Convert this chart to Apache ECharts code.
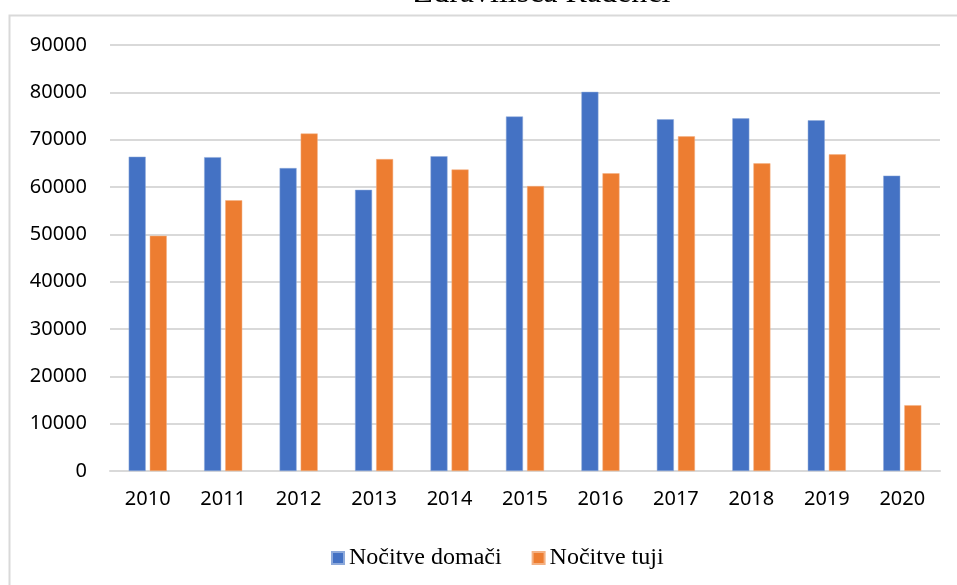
<!DOCTYPE html>
<html>
<head>
<meta charset="utf-8">
<script src="https://cdn.jsdelivr.net/npm/echarts@6/dist/echarts.min.js"></script>
<style>html,body{margin:0;padding:0;background:#fff}#c{width:957px;height:585px}</style>
</head>
<body>
<div id="c"></div>
<script>
const titleText = 'Zdravilišča Radenci';
const categories = ['2010','2011','2012','2013','2014','2015','2016','2017','2018','2019','2020'];
const seriesNames = ['Nočitve domači', 'Nočitve tuji'];
const domaci = [66400, 66300, 64000, 59400, 66500, 74900, 80100, 74300, 74500, 74100, 62400];
const tuji = [49700, 57200, 71300, 65900, 63700, 60200, 62900, 70700, 65000, 66900, 13900];

const chart = echarts.init(document.getElementById('c'), null, {renderer: 'canvas'});
chart.setOption({
  animation: false,
  backgroundColor: '#fff',
  title: {
    text: titleText,
    left: 537, top: -27,
    textAlign: 'center',
    textStyle: {fontFamily: 'Liberation Serif', fontSize: 32, fontWeight: 'normal', color: '#000'}
  },
  graphic: [{
    type: 'rect', silent: true, z: -1,
    shape: {x: 9.5, y: 15.5, width: 1000, height: 600},
    style: {fill: 'none', stroke: '#d9d9d9', lineWidth: 2}
  }],
  legend: {
    left: 326, top: 541,
    icon: 'rect', itemWidth: 12, itemHeight: 12, itemGap: 30,
    textStyle: {fontFamily: 'Liberation Serif', fontSize: 24, color: '#000'},
    data: seriesNames
  },
  grid: {left: 110, right: 17, top: 45, bottom: 114},
  xAxis: {
    type: 'category', data: categories,
    axisLine: {lineStyle: {color: '#d9d9d9', width: 2}},
    axisTick: {show: false},
    axisLabel: {fontFamily: 'Noto Sans', fontSize: 20, color: '#000', margin: 18}
  },
  yAxis: {
    type: 'value', min: 0, max: 90000, interval: 10000,
    axisLine: {show: false}, axisTick: {show: false},
    splitLine: {lineStyle: {color: '#d9d9d9', width: 2}},
    axisLabel: {fontFamily: 'Noto Sans', fontSize: 20, color: '#000', margin: 23,
      formatter: function (v) { return String(v); }}
  },
  series: [
    {name: seriesNames[0], type: 'bar', data: domaci, barWidth: 17, barGap: '24%',
     itemStyle: {color: '#4472C4', borderColor: '#8eaadb', borderWidth: 0.5}},
    {name: seriesNames[1], type: 'bar', data: tuji, barWidth: 17,
     itemStyle: {color: '#ED7D31', borderColor: '#f4b183', borderWidth: 0.5}}
  ]
});
</script>
</body>
</html>
